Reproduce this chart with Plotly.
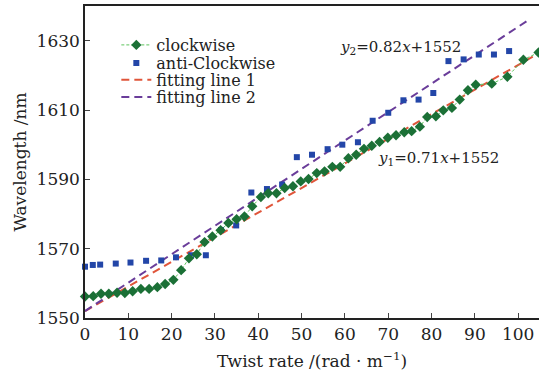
import plotly.graph_objects as go

# Clockwise data
cw_x = [0, 1.9, 3.7, 5.5, 7.4, 9.2, 11.0, 12.9, 14.8, 16.7, 18.5, 20.4, 22.2, 24.0, 25.8,
        27.6, 29.4, 31.3, 33.1, 35.0, 36.8, 38.6, 40.6, 42.3, 44.2, 46.1, 48.0, 49.8, 51.6,
        53.5, 55.3, 57.1, 58.9, 60.8, 62.6, 64.4, 66.2, 68.0, 69.9, 71.8, 73.7, 75.4, 77.3,
        79.0, 81.0, 82.7, 84.7, 86.5, 88.4, 90.2, 93.9, 97.5, 101.2, 104.7]
cw_y = [1556.2, 1556.3, 1557.0, 1557.0, 1557.3, 1557.2, 1557.7, 1558.4, 1558.4, 1558.9,
        1559.8, 1561.0, 1563.8, 1567.2, 1568.4, 1571.9, 1573.5, 1575.3, 1577.4, 1578.5,
        1579.3, 1582.2, 1584.9, 1586.0, 1586.0, 1587.5, 1588.0, 1589.4, 1590.1, 1591.8,
        1592.3, 1593.6, 1593.6, 1596.1, 1597.1, 1598.8, 1599.7, 1600.8, 1602.0, 1602.7,
        1603.6, 1603.9, 1605.2, 1608.0, 1608.2, 1609.9, 1610.6, 1613.0, 1615.7, 1617.3,
        1617.6, 1619.6, 1624.5, 1626.6]

# Anti-clockwise data
acw_x = [0, 1.8, 3.5, 7.1, 10.5, 14.1, 17.6, 21.0, 24.5, 27.9, 31.4, 34.9, 38.4, 42.0,
         45.5, 48.9, 52.4, 56.0, 59.4, 63.0, 66.4, 70.0, 73.5, 77.0, 80.4, 83.9, 87.4,
         90.9, 94.4, 97.9]
acw_y = [1564.8, 1565.3, 1565.4, 1565.7, 1566.0, 1566.5, 1566.6, 1567.5, 1568.1, 1568.1,
         1575.4, 1576.7, 1586.2, 1587.2, 1588.5, 1596.4, 1597.1, 1598.7, 1600.0, 1600.7,
         1606.9, 1609.2, 1612.8, 1613.0, 1614.9, 1624.1, 1624.6, 1626.0, 1626.0, 1627.0]

# Fitting lines
fit1_slope, fit1_icpt = 0.71, 1552
fit2_slope, fit2_icpt = 0.82, 1552
fit1_x = [0, 105]
fit2_x = [0, 102]
fit1_y = [fit1_slope * v + fit1_icpt for v in fit1_x]
fit2_y = [fit2_slope * v + fit2_icpt for v in fit2_x]

x_ticks = [0, 10, 20, 30, 40, 50, 60, 70, 80, 90, 100]
y_ticks = [1550, 1570, 1590, 1610, 1630]

FONT = "DejaVu Serif"

def leg(y):
    return dict(x=0.069, y=y, xanchor="left", yanchor="middle", bgcolor="rgba(0,0,0,0)",
                font=dict(size=16, family=FONT, color="#222"), itemwidth=30,
                borderwidth=0)

fig = go.Figure()
fig.add_trace(go.Scatter(x=fit1_x, y=fit1_y, mode="lines", name="fitting line 1",
                         line=dict(color="#e0553a", width=2, dash="8px,5px"),
                         legend="legend3", cliponaxis=False))
fig.add_trace(go.Scatter(x=fit2_x, y=fit2_y, mode="lines", name="fitting line 2",
                         line=dict(color="#6a3d9a", width=2, dash="8px,5px"),
                         legend="legend4", cliponaxis=False))
fig.add_trace(go.Scatter(x=acw_x, y=acw_y, mode="markers", name="anti-Clockwise",
                         marker=dict(symbol="square", size=6, color="#2346a8"),
                         legend="legend2", cliponaxis=False))
fig.add_trace(go.Scatter(x=cw_x, y=cw_y, mode="lines+markers", name="clockwise",
                         line=dict(color="#5cc45c", width=1, dash="3px,2px"),
                         marker=dict(symbol="diamond", size=8, color="#1b7036"),
                         legend="legend", cliponaxis=False))

fig.update_layout(
    width=539, height=372,
    margin=dict(l=85, r=0, t=6, b=54),
    paper_bgcolor="white", plot_bgcolor="white",
    font=dict(family=FONT, size=16, color="#222"),
    showlegend=True,
    legend=leg(0.875),
    legend2=leg(0.817),
    legend3=leg(0.763),
    legend4=leg(0.708),
    annotations=[
        dict(x=72.9, y=1640 - (47 - 6) / 3.46, xref="x", yref="y", xanchor="center",
             yanchor="middle",
             text="<i>y</i><sub>2</sub>=0.82<i>x</i>+1552", showarrow=False,
             font=dict(size=15, family=FONT)),
        dict(x=81.7, y=1640 - (158 - 6) / 3.46, xref="x", yref="y", xanchor="center",
             yanchor="middle",
             text="<i>y</i><sub>1</sub>=0.71<i>x</i>+1552", showarrow=False,
             font=dict(size=15, family=FONT)),
    ],
)
fig.update_xaxes(range=[0, 104.8], tickvals=x_ticks, ticks="inside", ticklen=5,
                 showline=True, linecolor="#222", linewidth=1.5, mirror=True,
                 showgrid=False, zeroline=False, automargin=False,
                 tickfont=dict(size=17, family=FONT),
                 title=dict(text="Twist rate /(rad · m<sup>−1</sup>)",
                            font=dict(size=17, family=FONT), standoff=12))
fig.update_yaxes(range=[1550, 1640], tickvals=y_ticks, ticks="inside", ticklen=5,
                 showline=True, linecolor="#222", linewidth=1.5, mirror=True,
                 showgrid=False, zeroline=False, automargin=False,
                 tickfont=dict(size=17, family=FONT),
                 title=dict(text="Wavelength /nm", font=dict(size=17, family=FONT),
                            standoff=6))
fig.write_html("out.html", config={"displayModeBar": False},
               post_script="document.body.style.margin='0px';")
